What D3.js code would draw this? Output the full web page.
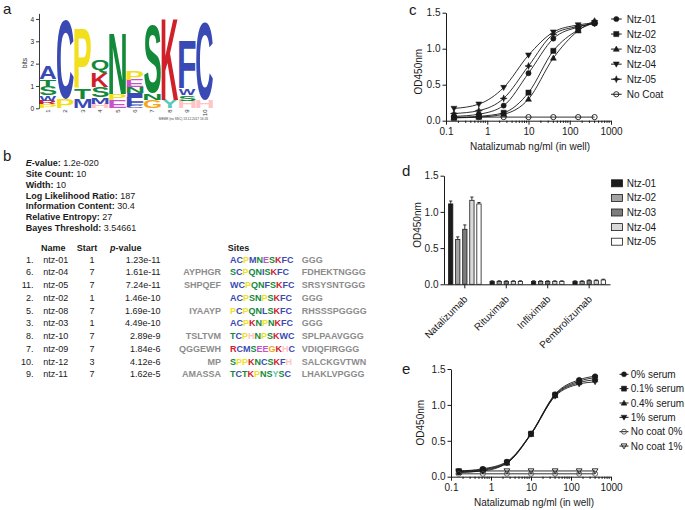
<!DOCTYPE html>
<html><head><meta charset="utf-8">
<script src="https://cdn.jsdelivr.net/npm/d3@7"></script>
<style>
body{margin:0;background:#fff}
svg{display:block}
text{font-family:"Liberation Sans",Arial,Helvetica,sans-serif}
</style>
</head><body>
<svg id="fig" width="685" height="510"></svg>
<script>
// ---------------- DATA ----------------
// Panel a: sequence logo (letters bottom -> top, information in bits)
const logoPositions = ["1","2","3","4","5","6","7","8","9","10"];
const logoColumns = [
  [["P",0.19],["R",0.15],["W",0.25],["S",0.4],["T",0.3],["A",0.57]],
  [["P",0.4],["C",3.55]],
  [["M",0.4],["T",0.45],["P",2.65]],
  [["H",0.2],["M",0.3],["S",0.45],["K",0.65],["Q",0.6]],
  [["E",0.35],["P",0.3],["N",2.75]],
  [["C",0.12],["F",0.15],["L",0.2],["I",0.2],["N",0.27],["E",0.33],["P",0.42]],
  [["G",0.37],["N",0.3],["S",3.06]],
  [["Y",0.37],["K",3.66]],
  [["H",0.34],["S",0.25],["W",0.3],["F",2.16]],
  [["H",0.37],["C",3.5]]
];
const logoBitTicks = [0,1,2,3,4];
const logoStamp = "MEME (no SSC) 13.12.2017 16:26";

// Panel b: motif summary and site table
const motifInfoLabels = ["E-value:","Site Count:","Width:","Log Likelihood Ratio:","Information Content:","Relative Entropy:","Bayes Threshold:"];
const motifInfoValues = ["1.2e-020","10","10","187","30.4","27","3.54661"];
const siteRank = ["1.","6.","11.","2.","5.","3.","8.","7.","10.","9."];
const siteNames = ["ntz-01","ntz-04","ntz-05","ntz-02","ntz-08","ntz-03","ntz-10","ntz-09","ntz-12","ntz-11"];
const siteStarts = ["1","7","7","1","7","1","7","7","3","7"];
const sitePValues = ["1.23e-11","1.61e-11","7.24e-11","1.46e-10","1.69e-10","4.49e-10","2.89e-9","1.84e-6","4.12e-6","1.62e-5"];
const leftFlanks = ["","AYPHGR","SHPQEF","","IYAAYP","","TSLTVM","QGGEWH","MP","AMASSA"];
const siteSeqs = ["ACPMNESKFC","SCPQNISKFC","WCPQNFSKFC","ACPSNPSKFC","PCPQNLSKFC","ACPKNPNKFC","TCPHNPSKWC","RCMSEEGKHC","SPPKNCSKFH","TCTKPNSYSC"];
const rightFlanks = ["GGG","FDHEKTNGGG","SRSYSNTGGG","GGG","RHSSSPGGGG","GGG","SPLPAAVGGG","VDIQFIRGGG","SALCKGVTWN","LHAKLVPGGG"];

// Panel c: binding curves
const concentrations = [0.156, 0.625, 2.5, 10, 40, 160, 400];
const cSeriesNames = ["Ntz-01","Ntz-02","Ntz-03","Ntz-04","Ntz-05","No Coat"];
const ntz01 = [0.06, 0.09, 0.21, 0.66, 1.14, 1.30, 1.35];
const ntz02 = [0.04, 0.06, 0.11, 0.39, 0.97, 1.26, 1.36];
const ntz03 = [0.04, 0.05, 0.09, 0.30, 0.87, 1.25, 1.39];
const ntz04 = [0.17, 0.23, 0.46, 0.91, 1.23, 1.33, 1.36];
const ntz05 = [0.10, 0.14, 0.31, 0.76, 1.20, 1.31, 1.35];
const noCoat = [0.05, 0.05, 0.05, 0.05, 0.05, 0.05, 0.05];
const logTicks = [0.1, 1, 10, 100, 1000];
const odTicks = [0, 0.5, 1.0, 1.5];

// Panel d: specificity bars
const antibodies = ["Natalizumab","Rituximab","Infliximab","Pembrolizumab"];
const dSeriesNames = ["Ntz-01","Ntz-02","Ntz-03","Ntz-04","Ntz-05"];
const dValues = [            // rows: antibodies, columns: Ntz series
  [1.11, 0.62, 0.76, 1.16, 1.11],
  [0.04, 0.04, 0.04, 0.04, 0.04],
  [0.04, 0.04, 0.04, 0.04, 0.04],
  [0.04, 0.04, 0.05, 0.05, 0.06]
];
const dErrors = [
  [0.04, 0.035, 0.06, 0.045, 0.02],
  [0.008, 0.008, 0.008, 0.008, 0.008],
  [0.008, 0.008, 0.008, 0.008, 0.008],
  [0.008, 0.008, 0.01, 0.01, 0.01]
];

// Panel e: serum interference
const eSeriesNames = ["0% serum","0.1% serum","0.4% serum","1% serum","No coat 0%","No coat 1%"];
const serum0 = [0.08, 0.11, 0.21, 0.60, 1.15, 1.35, 1.40];
const serum01 = [0.07, 0.10, 0.20, 0.60, 1.14, 1.33, 1.38];
const serum04 = [0.06, 0.09, 0.19, 0.59, 1.13, 1.31, 1.35];
const serum1 = [0.06, 0.08, 0.19, 0.59, 1.12, 1.29, 1.32];
const noCoat0 = [0.04, 0.04, 0.04, 0.04, 0.04, 0.04, 0.04];
const noCoat1 = [0.08, 0.08, 0.08, 0.08, 0.08, 0.08, 0.08];

// ---------------- STYLE ----------------
const FONT = '"Liberation Sans", Arial, Helvetica, sans-serif';
const AA_COLORS = {A:"#3a4ab4",C:"#3a4ab4",F:"#3a4ab4",I:"#3a4ab4",L:"#3a4ab4",M:"#3a4ab4",V:"#3a4ab4",W:"#3a4ab4",
  N:"#13893a",Q:"#13893a",S:"#13893a",T:"#13893a",K:"#d0202a",R:"#d0202a",D:"#c850c8",E:"#c850c8",
  G:"#f4a71d",H:"#ffc4c4",P:"#f2e01e",Y:"#5ccab9"};
const INK = "#1a1a1a";
const svg = d3.select("#fig");

// ---------------- PANEL LABELS ----------------
const panelLabels = [["a",3,14],["b",3,161],["c",409,15],["d",402,176],["e",402,374]];
svg.selectAll("text.panel").data(panelLabels).join("text").attr("class","panel")
  .attr("x",d=>d[1]).attr("y",d=>d[2]).text(d=>d[0])
  .attr("font-size",15).attr("fill",INK);

// ---------------- PANEL A: LOGO ----------------
(function(){
  const g = svg.append("g");
  const y = d3.scaleLinear().domain([0,4.25]).range([108.3,13.4]);
  const x = d3.scaleBand().domain(logoPositions).range([39.5,213]).paddingInner(0.04);
  const ax = g.append("g").attr("transform","translate(39,0)")
    .call(d3.axisLeft(y).tickValues(logoBitTicks).tickFormat(d3.format("d")).tickSize(3).tickSizeOuter(0).tickPadding(2));
  ax.selectAll("text").attr("font-family",FONT).attr("font-size",6.5).attr("fill","#222");
  ax.selectAll("line,path").attr("stroke","#222").attr("stroke-width",0.9);
  g.append("text").attr("transform","translate(27,63) rotate(-90)").attr("text-anchor","middle")
    .attr("font-size",6.5).attr("fill","#222").text("bits");
  // letters, stretched to fill their bit height
  const mctx = document.createElement("canvas").getContext("2d");
  mctx.font = 'bold 100px "Liberation Sans"';
  function ink(ch){const m=mctx.measureText(ch);return {l:m.actualBoundingBoxLeft,r:m.actualBoundingBoxRight,a:m.actualBoundingBoxAscent,d:m.actualBoundingBoxDescent};}
  logoColumns.forEach((col,i)=>{
    let cum = 0;
    const x0 = x(logoPositions[i]), w = x.bandwidth();
    col.forEach(([ch,h])=>{
      const yTop = y(cum+h), hh = y(cum)-y(cum+h);
      cum += h;
      const b = ink(ch);
      g.append("text").text(ch).attr("font-family",'"Liberation Sans"').attr("font-weight","bold")
        .attr("font-size",100).attr("fill",AA_COLORS[ch]||"#000")
        .attr("transform",`translate(${x0},${yTop}) scale(${w/(b.l+b.r)},${hh/(b.a+b.d)}) translate(${b.l},${b.a})`);
    });
  });
  g.selectAll("text.pos").data(logoPositions).join("text").attr("class","pos")
    .attr("transform",d=>`translate(${x(d)+x.bandwidth()/2},109.5) rotate(-90)`)
    .attr("text-anchor","end").attr("dy","0.35em").attr("font-size",6).attr("fill","#333").text(d=>d);
  g.append("text").attr("x",208).attr("y",120).attr("text-anchor","end").attr("font-size",3.2)
    .attr("fill","#444").text(logoStamp);
})();

// ---------------- PANEL B: TABLE ----------------
(function(){
  const g = svg.append("g").attr("font-size",9).attr("fill","#1a1a1a");
  motifInfoLabels.forEach((lab,i)=>{
    const t = g.append("text").attr("x",25.7).attr("y",163.3+10.7*i).attr("dy","0.35em");
    if(lab.startsWith("E-")){
      t.append("tspan").attr("font-weight","bold").attr("font-style","italic").text("E");
      t.append("tspan").attr("font-weight","bold").text(lab.slice(1)+" ");
    } else t.append("tspan").attr("font-weight","bold").text(lab+" ");
    t.append("tspan").text(motifInfoValues[i]);
  });
  const hy = 247.5;
  const hdr = g.append("g").attr("font-weight","bold");
  hdr.append("text").attr("x",41).attr("y",hy).attr("dy","0.35em").text("Name");
  hdr.append("text").attr("x",76.7).attr("y",hy).attr("dy","0.35em").text("Start");
  const pv = hdr.append("text").attr("x",110).attr("y",hy).attr("dy","0.35em");
  pv.append("tspan").attr("font-style","italic").text("p");
  pv.append("tspan").text("-value");
  hdr.append("text").attr("x",227.7).attr("y",hy).attr("dy","0.35em").text("Sites");
  const rowY = i => 259.5 + 12.75*i;
  siteNames.forEach((nm,i)=>{
    const yy = rowY(i);
    g.append("text").attr("x",33.5).attr("y",yy).attr("dy","0.35em").attr("text-anchor","end").text(siteRank[i]);
    g.append("text").attr("x",43.3).attr("y",yy).attr("dy","0.35em").text(nm);
    g.append("text").attr("x",92).attr("y",yy).attr("dy","0.35em").attr("text-anchor","middle").text(siteStarts[i]);
    g.append("text").attr("x",160.5).attr("y",yy).attr("dy","0.35em").attr("text-anchor","end").text(sitePValues[i]);
    g.append("text").attr("x",221).attr("y",yy).attr("dy","0.35em").attr("text-anchor","end")
      .attr("font-weight","bold").attr("fill","#8c8c8c").text(leftFlanks[i]);
    const st = g.append("text").attr("x",230).attr("y",yy).attr("dy","0.35em").attr("font-weight","bold");
    siteSeqs[i].split("").forEach(ch=>st.append("tspan").attr("fill",AA_COLORS[ch]||"#000").text(ch));
    g.append("text").attr("x",301.7).attr("y",yy).attr("dy","0.35em")
      .attr("font-weight","bold").attr("fill","#8c8c8c").text(rightFlanks[i]);
  });
})();

// ---------------- HELPERS ----------------
function symPath(type,s){
  switch(type){
    case "circle": case "circleOpen":
      return d3.symbol().type(d3.symbolCircle).size(Math.PI*s*s)();
    case "square": return `M${-s},${-s}h${2*s}v${2*s}h${-2*s}Z`;
    case "triUp": case "triUpOpen": return `M0,${-s*1.15}L${s*1.15},${s*0.85}L${-s*1.15},${s*0.85}Z`;
    case "triDown": case "triDownOpen": return `M0,${s*1.15}L${s*1.15},${-s*0.85}L${-s*1.15},${-s*0.85}Z`;
    case "star": {const a=s*1.35,b=s*0.38;return `M0,${-a}L${b},${-b}L${a},0L${b},${b}L0,${a}L${-b},${b}L${-a},0L${-b},${-b}Z`;}
  }
}
function drawMarker(g,type,cx,cy,s,color){
  const open = type.endsWith("Open");
  g.append("path").attr("d",symPath(type,s)).attr("transform",`translate(${cx},${cy})`)
    .attr("fill",open?"none":color).attr("stroke",color).attr("stroke-width",open?0.9:0.5);
}
function logAxisBottom(g,x,y0){
  const minors=[];
  for(let d=0.1; d<999; d*=10) for(let k=2;k<10;k++) minors.push(+(d*k).toPrecision(3));
  const ax = g.append("g").attr("transform",`translate(0,${y0})`)
    .call(d3.axisBottom(x).tickValues(logTicks).tickFormat(d=>String(d)).tickSize(4).tickSizeOuter(0).tickPadding(3));
  ax.selectAll("text").attr("font-family",FONT).attr("font-size",10).attr("fill",INK);
  ax.selectAll("line,path").attr("stroke",INK);
  g.append("g").attr("transform",`translate(0,${y0})`).selectAll("line").data(minors).join("line")
    .attr("x1",d=>x(d)).attr("x2",d=>x(d)).attr("y1",0).attr("y2",2.2).attr("stroke",INK);
}
function odAxisLeft(g,y,x0){
  const ax = g.append("g").attr("transform",`translate(${x0},0)`)
    .call(d3.axisLeft(y).tickValues(odTicks).tickFormat(d3.format(".1f")).tickSize(3.5).tickSizeOuter(0).tickPadding(2));
  ax.selectAll("text").attr("font-family",FONT).attr("font-size",10).attr("fill",INK);
  ax.selectAll("line,path").attr("stroke",INK);
}

// ---------------- PANEL C ----------------
(function(){
  const g = svg.append("g");
  const x = d3.scaleLog().domain([0.1,1000]).range([446,611]);
  const y = d3.scaleLinear().domain([0,1.5]).range([120.7,12.7]);
  logAxisBottom(g,x,y(0));
  odAxisLeft(g,y,x(0.1));
  g.append("text").attr("transform","translate(418,71.7) rotate(-90)").attr("text-anchor","middle")
    .attr("dy","0.35em").attr("font-size",10).attr("fill",INK).text("OD450nm");
  g.append("text").attr("x",530).attr("y",146.7).attr("dy","0.35em").attr("text-anchor","middle")
    .attr("font-size",10).attr("fill",INK).text("Natalizumab ng/ml (in well)");
  const series = [ntz01,ntz02,ntz03,ntz04,ntz05,noCoat];
  const markers = ["circle","square","triUp","triDown","star","circleOpen"];
  const line = d3.line().x((d,i)=>x(concentrations[i])).y(d=>y(d)).curve(d3.curveMonotoneX);
  series.forEach((vals,k)=>{
    g.append("path").attr("d",line(vals)).attr("fill","none").attr("stroke",INK).attr("stroke-width",0.9);
  });
  series.forEach((vals,k)=>{
    vals.forEach((v,i)=>drawMarker(g,markers[k],x(concentrations[i]),y(v),2.6,INK));
  });
  cSeriesNames.forEach((nm,k)=>{
    const yy = 19 + 15.05*k;
    g.append("line").attr("x1",611).attr("x2",621.7).attr("y1",yy).attr("y2",yy).attr("stroke",INK);
    drawMarker(g,markers[k],616.3,yy,2.6,INK);
    g.append("text").attr("x",626.7).attr("y",yy).attr("dy","0.35em").attr("font-size",10).attr("fill",INK).text(nm);
  });
})();

// ---------------- PANEL D ----------------
(function(){
  const g = svg.append("g");
  const y = d3.scaleLinear().domain([0,1.5]).range([284.3,175.7]);
  const x0 = d3.scaleBand().domain(antibodies).range([444,610]).paddingInner(0.195).paddingOuter(0.1);
  const x1 = d3.scaleBand().domain(dSeriesNames).range([0,x0.bandwidth()]).paddingInner(0.28).paddingOuter(0);
  const fills = ["#1c1c1c","#a3a3a3","#7d7d7d","#d9d9d9","#ffffff"];
  odAxisLeft(g,y,444);
  const ax = g.append("g").attr("transform",`translate(0,${y(0)})`)
    .call(d3.axisBottom(x0).tickSize(4).tickSizeOuter(0).tickFormat(""));
  ax.selectAll("line,path").attr("stroke",INK);
  g.selectAll("text.xl").data(antibodies).join("text").attr("class","xl")
    .attr("transform",d=>`translate(${x0(d)+x0.bandwidth()/2+1},${y(0)+13}) rotate(-45)`)
    .attr("text-anchor","end").attr("dy","0.35em").attr("font-size",10).attr("fill",INK).text(d=>d);
  g.append("text").attr("transform","translate(417,225) rotate(-90)").attr("text-anchor","middle")
    .attr("dy","0.35em").attr("font-size",10).attr("fill",INK).text("OD450nm");
  antibodies.forEach((ab,i)=>{
    dSeriesNames.forEach((s,j)=>{
      const bx = x0(ab)+x1(s), bw = x1.bandwidth();
      const v = dValues[i][j], e = dErrors[i][j];
      const cx = bx+bw/2;
      g.append("line").attr("x1",cx).attr("x2",cx).attr("y1",y(v)).attr("y2",y(v+e)).attr("stroke",INK).attr("stroke-width",0.9);
      g.append("line").attr("x1",cx-1.6).attr("x2",cx+1.6).attr("y1",y(v+e)).attr("y2",y(v+e)).attr("stroke",INK).attr("stroke-width",0.9);
      g.append("rect").attr("x",bx+0.4).attr("y",y(v)).attr("width",bw-0.8).attr("height",y(0)-y(v))
        .attr("fill",fills[j]).attr("stroke",INK).attr("stroke-width",0.8);
    });
  });
  dSeriesNames.forEach((nm,j)=>{
    const yy = 183.3 + 14.6*j;
    g.append("rect").attr("x",611.5).attr("y",yy-3.5).attr("width",11).attr("height",7)
      .attr("fill",fills[j]).attr("stroke",INK).attr("stroke-width",0.8);
    g.append("text").attr("x",626.7).attr("y",yy).attr("dy","0.35em").attr("font-size",10).attr("fill",INK).text(nm);
  });
})();

// ---------------- PANEL E ----------------
(function(){
  const g = svg.append("g");
  const x = d3.scaleLog().domain([0.1,1000]).range([451,611]);
  const y = d3.scaleLinear().domain([0,1.5]).range([476.7,369]);
  logAxisBottom(g,x,y(0));
  odAxisLeft(g,y,x(0.1));
  g.append("text").attr("transform","translate(420,422.7) rotate(-90)").attr("text-anchor","middle")
    .attr("dy","0.35em").attr("font-size",10).attr("fill",INK).text("OD450nm");
  g.append("text").attr("x",534).attr("y",502.7).attr("dy","0.35em").attr("text-anchor","middle")
    .attr("font-size",10).attr("fill",INK).text("Natalizumab ng/ml (in well)");
  const series = [serum0,serum01,serum04,serum1,noCoat0,noCoat1];
  const markers = ["circle","square","triUp","triDown","circleOpen","triDownOpen"];
  const colors = [INK,INK,INK,INK,"#555",INK];
  const line = d3.line().x((d,i)=>x(concentrations[i])).y(d=>y(d)).curve(d3.curveMonotoneX);
  series.forEach((vals,k)=>{
    g.append("path").attr("d",line(vals)).attr("fill","none").attr("stroke",INK).attr("stroke-width",0.9);
  });
  series.forEach((vals,k)=>{
    vals.forEach((v,i)=>drawMarker(g,markers[k],x(concentrations[i]),y(v),2.5,colors[k]));
  });
  eSeriesNames.forEach((nm,k)=>{
    const yy = 374.3 + 14.35*k;
    g.append("line").attr("x1",619.5).attr("x2",628.5).attr("y1",yy).attr("y2",yy).attr("stroke",INK);
    drawMarker(g,markers[k],624,yy,2.5,colors[k]);
    g.append("text").attr("x",630.7).attr("y",yy).attr("dy","0.35em").attr("font-size",10).attr("fill",INK).text(nm);
  });
})();
</script>
</body></html>
